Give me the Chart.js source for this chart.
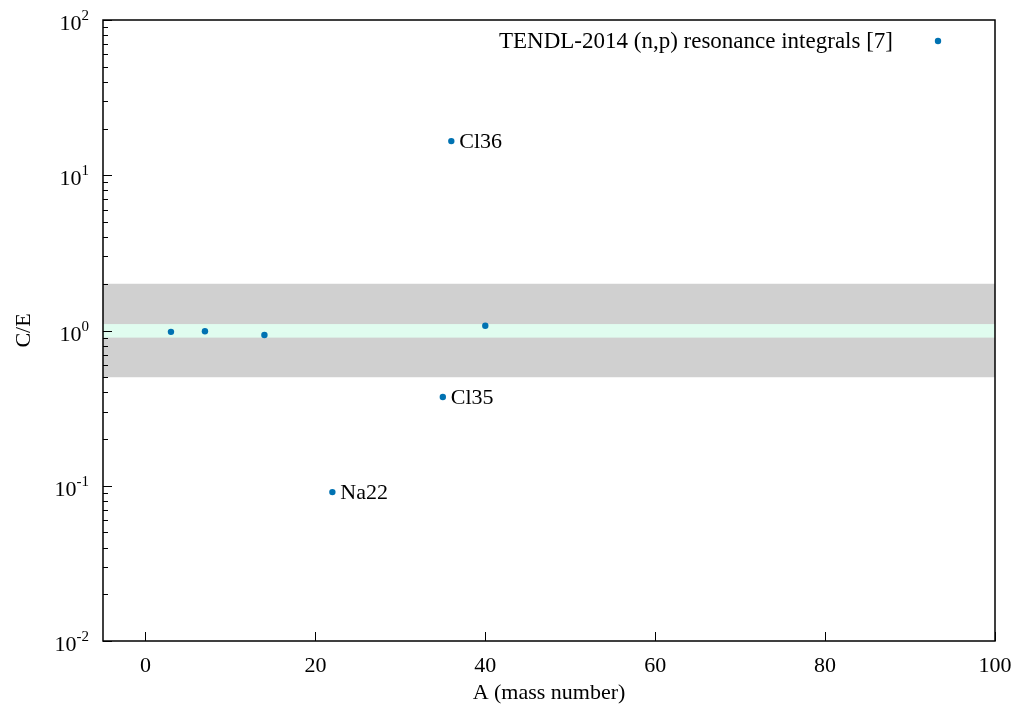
<!DOCTYPE html>
<html>
<head>
<meta charset="utf-8">
<script src="https://cdn.jsdelivr.net/npm/chart.js@4"></script>
<style>
  body { margin: 0; background: #fff; }
  canvas { display: block; }
</style>
</head>
<body>
<canvas id="canvas" width="1016" height="711"></canvas>
<script>
var massNumbers = [3, 7, 14, 22, 35, 36, 40];
var ceValues = [0.98, 0.99, 0.935, 0.091, 0.373, 16.6, 1.074];
var pointNames = ['', '', '', 'Na22', 'Cl35', 'Cl36', ''];
var seriesLabel = 'TENDL-2014 (n,p) resonance integrals [7]';

var wideBand = [0.5, 2];
var narrowBand = [0.9, 1.1];

var xTicks = [0, 20, 40, 60, 80, 100];
var yExponents = [-2, -1, 0, 1, 2];

var serif = '"Liberation Serif", "DejaVu Serif", serif';
var blue = '#0072b2';

// bands, axis frame, ticks, labels and legend drawn on top of chart.js scales
var gnuplotLook = {
  id: 'gnuplotLook',
  beforeDatasetsDraw: function (chart) {
    var c = chart.ctx, a = chart.chartArea, y = chart.scales.y;
    c.save();
    c.fillStyle = '#d0d0d0';
    var t = y.getPixelForValue(wideBand[1]), b = y.getPixelForValue(wideBand[0]);
    c.fillRect(a.left, t, a.right - a.left, b - t);
    c.fillStyle = '#e0fcef';
    t = y.getPixelForValue(narrowBand[1]); b = y.getPixelForValue(narrowBand[0]);
    c.fillRect(a.left, t, a.right - a.left, b - t);
    c.restore();
  },
  afterDraw: function (chart) {
    var c = chart.ctx, a = chart.chartArea, x = chart.scales.x, y = chart.scales.y;
    c.save();
    c.strokeStyle = '#000';
    c.lineWidth = 1;

    // y ticks (major + log minors), inside
    yExponents.forEach(function (e, i) {
      var v = Math.pow(10, e);
      var py = Math.round(y.getPixelForValue(v)) + 0.5;
      c.beginPath(); c.moveTo(a.left, py); c.lineTo(a.left + 9, py); c.stroke();
      if (i < yExponents.length - 1) {
        for (var m = 2; m <= 9; m++) {
          var my = Math.round(y.getPixelForValue(m * v)) + 0.5;
          c.beginPath(); c.moveTo(a.left, my); c.lineTo(a.left + 5, my); c.stroke();
        }
      }
    });
    // x ticks, inside
    xTicks.forEach(function (v) {
      var px = Math.round(x.getPixelForValue(v)) + 0.5;
      c.beginPath(); c.moveTo(px, a.bottom); c.lineTo(px, a.bottom - 9); c.stroke();
    });

    // frame
    c.lineWidth = 1.5;
    c.strokeRect(a.left, a.top, a.right - a.left, a.bottom - a.top);

    c.fillStyle = '#000';
    // y tick labels 10^n
    yExponents.forEach(function (e) {
      var py = y.getPixelForValue(Math.pow(10, e));
      c.font = '15px ' + serif;
      var sup = String(e);
      var sw = c.measureText(sup).width;
      c.textBaseline = 'alphabetic';
      c.textAlign = 'left';
      c.fillText(sup, a.left - 14 - sw, py);
      c.font = '22px ' + serif;
      c.textAlign = 'right';
      c.fillText('10', a.left - 14 - sw, py + 10);
    });
    // x tick labels
    c.font = '22px ' + serif;
    c.textAlign = 'center';
    c.textBaseline = 'alphabetic';
    xTicks.forEach(function (v) {
      c.fillText(String(v), x.getPixelForValue(v), a.bottom + 31);
    });

    // axis titles
    c.fillText('A (mass number)', (a.left + a.right) / 2, 699);
    c.save();
    c.translate(30, (a.top + a.bottom) / 2);
    c.rotate(-Math.PI / 2);
    c.fillText('C/E', 0, 0);
    c.restore();

    // point names
    c.textAlign = 'left';
    c.textBaseline = 'middle';
    massNumbers.forEach(function (m, i) {
      if (!pointNames[i]) return;
      c.fillText(pointNames[i], x.getPixelForValue(m) + 8, y.getPixelForValue(ceValues[i]) + 1);
    });

    // legend
    c.font = '23px ' + serif;
    c.textAlign = 'right';
    c.fillText(seriesLabel, 893, 42);
    c.fillStyle = blue;
    c.beginPath(); c.arc(938, 41, 3.2, 0, Math.PI * 2); c.fill();
    c.restore();
  }
};

var points = massNumbers.map(function (m, i) { return { x: m, y: ceValues[i] }; });

var ctx = document.getElementById('canvas').getContext('2d');
var chart = new Chart(ctx, {
  type: 'scatter',
  data: {
    datasets: [{
      label: seriesLabel,
      data: points,
      backgroundColor: blue,
      borderColor: blue,
      pointRadius: 3.2,
      pointBorderWidth: 0
    }]
  },
  options: {
    responsive: false,
    animation: false,
    layout: { padding: { left: 103, top: 20, right: 21, bottom: 70 } },
    plugins: {
      legend: { display: false },
      tooltip: { enabled: false }
    },
    scales: {
      x: { type: 'linear', min: -5, max: 100, display: false },
      y: { type: 'logarithmic', min: 0.01, max: 100, display: false }
    }
  },
  plugins: [gnuplotLook]
});
</script>
</body>
</html>
